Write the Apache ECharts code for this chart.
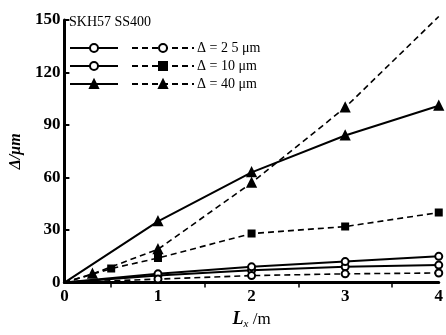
<!DOCTYPE html>
<html><head><meta charset="utf-8">
<script src="https://cdn.jsdelivr.net/npm/echarts@6/dist/echarts.min.js"></script>
<style>html,body{margin:0;padding:0;background:#fff}#c{width:446px;height:335px}</style>
</head><body><div id="c"></div>
<script>
var xTicks = [0, 1, 2, 3, 4];
var yTicks = [0, 30, 60, 90, 120, 150];
var xs = [0, 1, 2, 3, 4];
var skh25 = [0, 4, 7, 9, 10];
var skh10 = [0, 5, 9, 12, 15];
var skh40 = [0, 35, 63, 84, 101];
var ssX25 = [0, 1, 2, 3, 4];
var ss25 = [0, 2, 4, 5, 5.5];
var ssX10 = [0, 0.5, 1, 2, 3, 4];
var ss10 = [0, 8, 14, 28, 32, 40];
var ssX40 = [0, 0.3, 1, 2, 3, 4];
var ss40 = [0, 5, 19, 57, 100, 152];
var legendLabels = ['Δ = 2 5 μm', 'Δ = 10 μm', 'Δ = 40 μm'];

function pts(x, y) {
  return x.map(function (v, i) {
    var p = { value: [v, y[i]] };
    if (i === 0 || i === x.length - 1 && y[i] > 150) p.symbol = 'none';
    return p;
  });
}
var font = 'Liberation Serif';
function mk(name, x, y, dashed, symbol, filled, size) {
  return {
    name: name, type: 'line', data: pts(x, y), clip: false,
    symbol: symbol, symbolSize: size,
    showAllSymbol: true,
    lineStyle: { color: '#000', width: dashed ? 1.6 : 2, type: dashed ? [6, 4] : 'solid' },
    itemStyle: { color: filled ? '#000' : '#fff', borderColor: '#000', borderWidth: 2 },
    emphasis: { disabled: true }, animation: false
  };
}
var series = [
  mk('s25', xs, skh25, false, 'circle', false, 7),
  mk('s10', xs, skh10, false, 'circle', false, 7),
  mk('s40', xs, skh40, false, 'triangle', true, 8),
  mk('d25', ssX25, ss25, true, 'circle', false, 7),
  mk('d10', ssX10, ss10, true, 'rect', true, 6),
  mk('d40', ssX40, ss40, true, 'triangle', true, 8)
];
var chart = echarts.init(document.getElementById('c'));
chart.setOption({
  animation: false,
  title: { text: 'SKH57 SS400', left: 64, top: 10, textStyle: { fontFamily: font, fontSize: 14, fontWeight: 'normal', color: '#000' } },
  legend: [
    { data: ['s25', 's10', 's40'], orient: 'vertical', left: 64, top: 38, itemWidth: 48, itemHeight: 10, itemGap: 8,
      formatter: function () { return ''; }, textStyle: { fontSize: 1 }, selectedMode: false },
    { data: ['d25', 'd10', 'd40'], orient: 'vertical', left: 126, top: 36, itemWidth: 62, itemHeight: 10, itemGap: 4,
      formatter: function (n) { return legendLabels[['d25', 'd10', 'd40'].indexOf(n)]; },
      textStyle: { fontFamily: font, fontSize: 14, color: '#000', padding: [0, 0, 0, -2] }, selectedMode: false }
  ],
  grid: { left: 60, right: 5, top: 20, bottom: 45 },
  xAxis: {
    type: 'value', min: 0, max: 4, interval: 1,
    name: '{i|L}{s|x}{n| /m}', nameLocation: 'middle', nameGap: 24,
    nameTextStyle: { rich: {
      i: { fontFamily: font, fontStyle: 'italic', fontWeight: 'bold', fontSize: 18, color: '#000' },
      s: { fontFamily: font, fontStyle: 'italic', fontSize: 11, color: '#000', verticalAlign: 'bottom', padding: [10, 0, 0, 0] },
      n: { fontFamily: font, fontSize: 17, color: '#000' } } },
    axisLine: { lineStyle: { color: '#000', width: 3 } },
    axisTick: { show: false },
    minorTick: { show: true, splitNumber: 2, length: 5, lineStyle: { color: '#000', width: 1.5 } },
    splitLine: { show: false },
    axisLabel: { fontFamily: font, fontSize: 17, fontWeight: 'bold', color: '#000', margin: 6,
      formatter: function (v) { return xTicks.indexOf(v) >= 0 ? String(v) : ''; } }
  },
  yAxis: {
    type: 'value', min: 0, max: 150, interval: 30,
    name: 'Δ/μm', nameLocation: 'middle', nameGap: 35, nameRotate: 90,
    nameTextStyle: { fontFamily: font, fontSize: 16, fontWeight: 'bold', fontStyle: 'italic', color: '#000' },
    axisLine: { show: true, lineStyle: { color: '#000', width: 3 } },
    axisTick: { show: true, inside: true, length: 5, lineStyle: { color: '#000', width: 2 } },
    splitLine: { show: false },
    axisLabel: { fontFamily: font, fontSize: 17, fontWeight: 'bold', color: '#000', margin: 4,
      formatter: function (v) { return yTicks.indexOf(v) >= 0 ? String(v) : ''; } }
  },
  series: series
});
</script></body></html>
